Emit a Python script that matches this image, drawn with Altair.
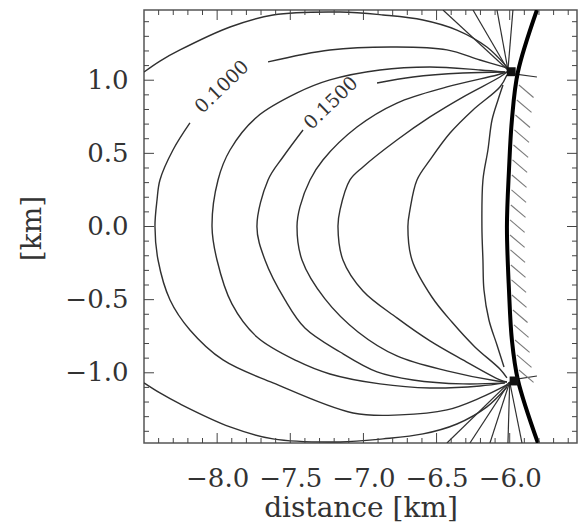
import altair as alt
import pandas as pd

X_DOMAIN = [-8.5, -5.54]
Y_DOMAIN = [-1.48, 1.48]

# ---- contour lines (km) ----
# 0.1000 contour, piece from upper tip to label, and from label to lower tip
c1a_x = [-6.019, -6.203, -6.429, -6.771, -7.229, -7.652]
c1a_y = [1.084, 1.138, 1.207, 1.227, 1.207, 1.125]
c1b_x = [-8.186, -8.302, -8.391, -8.411, -8.425, -8.404, -8.322, -8.186, -7.960, -7.618, -7.071, -6.750, -6.429, -6.203, -6.019]
c1b_y = [0.708, 0.523, 0.318, 0.181, 0.000, -0.229, -0.502, -0.707, -0.912, -1.069, -1.275, -1.288, -1.254, -1.172, -1.083]

c2_x = [-6.033, -6.203, -6.545, -6.887, -7.229, -7.454, -7.728, -7.912, -7.994, -8.035, -8.001, -7.899, -7.728, -7.454, -7.229, -6.887, -6.545, -6.203, -6.033]
c2_y = [1.056, 1.070, 1.090, 1.070, 1.002, 0.913, 0.749, 0.523, 0.318, 0.000, -0.229, -0.529, -0.755, -0.919, -1.008, -1.076, -1.104, -1.090, -1.069]

# 0.1500 contour
c3a_x = [-6.033, -6.320, -6.661, -6.907]
c3a_y = [1.056, 1.049, 1.022, 0.981]
c3b_x = [-7.413, -7.550, -7.652, -7.728, -7.673, -7.536, -7.400, -7.160, -6.907, -6.661, -6.320, -6.033]
c3b_y = [0.660, 0.475, 0.318, 0.000, -0.229, -0.502, -0.694, -0.858, -0.994, -1.049, -1.076, -1.069]

c4_x = [-6.019, -6.087, -6.429, -6.771, -7.044, -7.277, -7.365, -7.434, -7.454, -7.420, -7.263, -7.037, -6.771, -6.429, -6.087, -6.019]
c4_y = [1.056, 1.036, 0.954, 0.844, 0.680, 0.455, 0.318, 0.134, 0.000, -0.229, -0.495, -0.721, -0.885, -0.987, -1.056, -1.063]

c5_x = [-6.019, -6.067, -6.320, -6.545, -6.771, -7.003, -7.092, -7.160, -7.174, -7.140, -7.003, -6.771, -6.545, -6.320, -6.067, -6.019]
c5_y = [1.056, 1.022, 0.885, 0.749, 0.591, 0.407, 0.318, 0.113, 0.000, -0.229, -0.441, -0.625, -0.782, -0.912, -1.049, -1.063]

c6_x = [-6.019, -6.067, -6.251, -6.408, -6.545, -6.634, -6.682, -6.696, -6.668, -6.532, -6.395, -6.238, -6.067, -6.019]
c6_y = [1.036, 0.954, 0.797, 0.639, 0.455, 0.318, 0.113, 0.000, -0.229, -0.482, -0.653, -0.823, -0.974, -1.035]

c7_x = [-6.046, -6.080, -6.121, -6.149, -6.183, -6.190, -6.183, -6.176, -6.142, -6.087, -6.039]
c7_y = [0.967, 0.865, 0.728, 0.523, 0.318, 0.000, -0.229, -0.434, -0.639, -0.810, -0.960]

# outermost contour (leaves the frame)
aU_x = [-8.500, -8.391, -8.254, -7.912, -7.618, -7.160, -6.866, -6.593, -6.361, -6.156, -6.019]
aU_y = [1.056, 1.131, 1.207, 1.364, 1.446, 1.466, 1.446, 1.412, 1.343, 1.227, 1.090]
aL_x = [-8.500, -8.391, -8.254, -7.912, -7.618, -7.160, -6.866, -6.593, -6.361, -6.156, -6.019]
aL_y = [-1.069, -1.138, -1.213, -1.370, -1.452, -1.473, -1.452, -1.418, -1.350, -1.233, -1.097]

# boundary (thick line)
bnd_x = [-5.814, -5.944, -5.985, -6.005, -6.019, -6.005, -5.985, -5.944, -5.807]
bnd_y = [1.48, 1.056, 0.728, 0.386, 0.000, -0.434, -0.776, -1.049, -1.48]

# rays from the tips
ray_x0 = [-6.012, -6.012, -6.012, -6.012, -5.985, -6.0, -6.0, -6.0, -6.0, -6.0, -5.964]
ray_y0 = [1.07, 1.07, 1.07, 1.07, 1.045, -1.063, -1.063, -1.063, -1.063, -1.063, -1.045]
ray_x1 = [-6.456, -6.251, -6.087, -5.978, -5.814, -6.429, -6.272, -6.135, -6.012, -5.916, -5.814]
ray_y1 = [1.48, 1.48, 1.48, 1.48, 1.022, -1.48, -1.48, -1.48, -1.48, -1.48, -1.022]

# tips
tip_x = [-5.990, -5.970]
tip_y = [1.058, -1.056]

# hatching to the right of the boundary
hatch_x0 = [-5.937, -5.951, -5.961, -5.968, -5.974, -5.981, -5.985, -5.988, -5.992, -5.998,
            -5.998, -5.995, -5.992, -5.988, -5.985, -5.978, -5.971, -5.964, -5.951, -5.937]
hatch_y0 = [0.967, 0.865, 0.762, 0.660, 0.557, 0.455, 0.352, 0.250, 0.147, 0.045,
            -0.058, -0.160, -0.263, -0.365, -0.468, -0.571, -0.673, -0.776, -0.878, -0.981]
HATCH_DX = 0.100
HATCH_DY = -0.085

# contour labels
lab_text = ["0.1000", "0.1500"]
lab_x = [-7.967, -7.222]
lab_y = [0.954, 0.844]

# axis ticks
x_major = [-8.0, -7.5, -7.0, -6.5, -6.0]
x_minor = [-8.4, -8.3, -8.2, -8.1, -7.9, -7.8, -7.7, -7.6, -7.4, -7.3, -7.2, -7.1,
           -6.9, -6.8, -6.7, -6.6, -6.4, -6.3, -6.2, -6.1, -5.9, -5.8, -5.7, -5.6]
y_major = [-1.0, -0.5, 0.0, 0.5, 1.0]
y_minor = [-1.4, -1.3, -1.2, -1.1, -0.9, -0.8, -0.7, -0.6, -0.4, -0.3, -0.2, -0.1,
           0.1, 0.2, 0.3, 0.4, 0.6, 0.7, 0.8, 0.9, 1.1, 1.2, 1.3, 1.4]

W = 433
H = 433
FONT = "DejaVu Serif"
INK = "#333333"
XT = "distance [km]"
YT = "[km]"

curves = {
    "c1a": (c1a_x, c1a_y), "c1b": (c1b_x, c1b_y), "c2": (c2_x, c2_y),
    "c3a": (c3a_x, c3a_y), "c3b": (c3b_x, c3b_y), "c4": (c4_x, c4_y),
    "c5": (c5_x, c5_y), "c6": (c6_x, c6_y), "c7": (c7_x, c7_y),
    "aU": (aU_x, aU_y), "aL": (aL_x, aL_y),
}
rows = []
for name, (xs_, ys_) in curves.items():
    for i, (xv, yv) in enumerate(zip(xs_, ys_)):
        rows.append({"seg": name, "i": i, "x": xv, "y": yv})
df_c = pd.DataFrame(rows)

df_b = pd.DataFrame({"i": list(range(len(bnd_x))), "x": bnd_x, "y": bnd_y})
df_r = pd.DataFrame({"x": ray_x0, "y": ray_y0, "x2": ray_x1, "y2": ray_y1})
df_h = pd.DataFrame({"x": hatch_x0, "y": hatch_y0,
                     "x2": [v + HATCH_DX for v in hatch_x0],
                     "y2": [v + HATCH_DY for v in hatch_y0]})
df_t = pd.DataFrame({"x": tip_x, "y": tip_y})
df_l = pd.DataFrame({"t": lab_text, "x": lab_x, "y": lab_y})

xsc = alt.Scale(domain=X_DOMAIN, nice=False, zero=False)
ysc = alt.Scale(domain=Y_DOMAIN, nice=False, zero=False)

x_axis = alt.Axis(values=x_major, format=".1f", ticks=False, domain=False, grid=False,
                  labelFont=FONT, labelFontSize=26, labelColor=INK, labelPadding=22,
                  labelOverlap=False, titleFont=FONT,
                  titleFontSize=28, titleFontWeight="normal", titleColor=INK,
                  titleY=73, titleBaseline="alphabetic")
y_axis = alt.Axis(values=y_major, format=".1f", ticks=False, domain=False, grid=False,
                  labelFont=FONT, labelFontSize=26, labelColor=INK, labelPadding=16,
                  titleFont=FONT, titleFontSize=28, titleFontWeight="normal",
                  titleColor=INK, titleX=-112, titleY=218, titleAngle=270,
                  titleAlign="center", titleBaseline="middle")


def X(field="x:Q"):
    return alt.X(field, scale=xsc, title=XT)


def Y(field="y:Q"):
    return alt.Y(field, scale=ysc, title=YT)


contours = alt.Chart(df_c).mark_line(
    color="#303030", strokeWidth=1.4, interpolate="catmull-rom", clip=True
).encode(
    x=alt.X("x:Q", scale=xsc, axis=x_axis, title=XT),
    y=alt.Y("y:Q", scale=ysc, axis=y_axis, title=YT),
    detail="seg:N",
    order="i:Q",
)

boundary = alt.Chart(df_b).mark_line(
    color="black", strokeWidth=4, interpolate="catmull-rom", clip=True
).encode(x=X(), y=Y(), order="i:Q")

rays = alt.Chart(df_r).mark_rule(color="#303030", strokeWidth=1.2, clip=True).encode(
    x=X(), y=Y(), x2="x2:Q", y2="y2:Q")

hatch = alt.Chart(df_h).mark_rule(color="#7a7a7a", strokeWidth=1.1, clip=True).encode(
    x=X(), y=Y(), x2="x2:Q", y2="y2:Q")

tips = alt.Chart(df_t).mark_square(color="#111111", size=80, opacity=1).encode(
    x=X(), y=Y())

labels = alt.Chart(df_l).mark_text(
    font=FONT, fontSize=19, color=INK, angle=316, align="center", baseline="middle"
).encode(x=X(), y=Y(), text="t:N")


def xticks(vals, length, bottom=True):
    d = pd.DataFrame({"v": vals})
    y0 = H if bottom else 0
    y1 = H - length if bottom else length
    return alt.Chart(d).mark_rule(color="#444444", strokeWidth=1).encode(
        x=X("v:Q"), y=alt.value(y0), y2=alt.value(y1))


def yticks(vals, length, left=True):
    d = pd.DataFrame({"v": vals})
    x0 = 0 if left else W
    x1 = length if left else W - length
    return alt.Chart(d).mark_rule(color="#444444", strokeWidth=1).encode(
        y=Y("v:Q"), x=alt.value(x0), x2=alt.value(x1))


tick_layers = [
    xticks(x_major, 10, True), xticks(x_minor, 5, True),
    xticks(x_major, 10, False), xticks(x_minor, 5, False),
    yticks(y_major, 10, True), yticks(y_minor, 5, True),
    yticks(y_major, 10, False), yticks(y_minor, 5, False),
]

chart = alt.layer(
    contours, rays, hatch, boundary, tips, labels, *tick_layers
).properties(
    width=W, height=H,
    autosize=alt.AutoSizeParams(type="none"),
    padding={"left": 144, "top": 10, "right": 2, "bottom": 87},
    background="white",
).configure_view(stroke="#555555", strokeWidth=1.5)

chart.save("out.html", embed_options={"renderer": "svg", "actions": False})
